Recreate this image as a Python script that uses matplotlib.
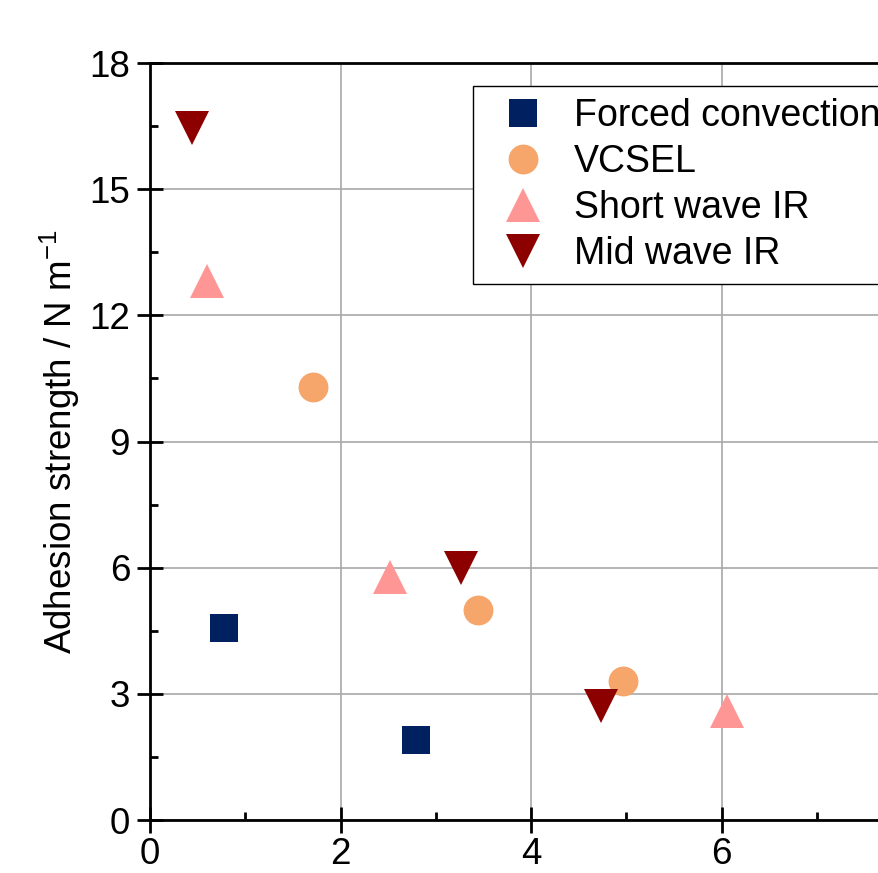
import matplotlib
matplotlib.use("Agg")
import matplotlib.pyplot as plt
from matplotlib.ticker import FixedLocator, MultipleLocator

plt.rcParams["font.family"] = ["Liberation Sans", "DejaVu Sans"]
plt.rcParams["mathtext.fontset"] = "custom"
plt.rcParams["mathtext.rm"] = "Liberation Sans"
plt.rcParams["mathtext.it"] = "Liberation Sans"

# data
forced_x = [0.78, 2.79]
forced_y = [4.56, 1.90]
vcsel_x = [1.71, 3.44, 4.97]
vcsel_y = [10.30, 4.99, 3.31]
swir_x = [0.60, 2.52, 6.06]
swir_y = [12.82, 5.78, 2.58]
mwir_x = [0.44, 3.26, 4.74]
mwir_y = [16.45, 6.00, 2.71]

labels = ["Forced convection", "VCSEL", "Short wave IR", "Mid wave IR"]
x_ticks = [0, 2, 4, 6]

fig = plt.figure(figsize=(8.79, 8.73), dpi=100)
# axes run past the right edge of the picture (cropped like the original)
ax = fig.add_axes([150 / 879, 53 / 873, 762 / 879, 757 / 873])

ax.plot(forced_x, forced_y, "s", color="#002060", ms=19.5, mew=0, label=labels[0], zorder=3)
ax.plot(vcsel_x, vcsel_y, "o", color="#F6A66A", ms=21.5, mew=0, label=labels[1], zorder=3)
ax.plot(swir_x, swir_y, "^", color="#FF9696", ms=24, mew=0, label=labels[2], zorder=3)
ax.plot(mwir_x, mwir_y, "v", color="#8C0000", ms=25, mew=0, label=labels[3], zorder=3)

ax.set_xlim(0, 8)
ax.set_ylim(0, 18)
ax.xaxis.set_major_locator(FixedLocator(x_ticks))
ax.xaxis.set_minor_locator(MultipleLocator(1))
ax.yaxis.set_major_locator(MultipleLocator(3))
ax.yaxis.set_minor_locator(MultipleLocator(1.5))

ax.grid(True, which="major", color="#A8A8A8", lw=1.2)
ax.set_axisbelow(True)

for side in ["left", "bottom", "top"]:
    ax.spines[side].set_linewidth(2.0)
ax.spines["right"].set_visible(False)

ax.tick_params(which="major", direction="inout", length=18.5, width=2.0,
               labelsize=26.5, pad=5, top=False, right=False)
ax.tick_params(axis="x", which="major", pad=3)
ax.tick_params(which="minor", direction="in", length=6, width=2.0,
               top=False, right=False)

ax.set_ylabel("Adhesion strength / N m$^{-1}$", fontsize=26.5, labelpad=5)

leg = fig.legend(loc="upper left", bbox_to_anchor=(473 / 879, 1 - 86 / 873),
                 borderaxespad=0, fontsize=27, frameon=True, fancybox=False,
                 edgecolor="black", framealpha=1, borderpad=0.33,
                 labelspacing=0.26, handletextpad=0.35, handlelength=2.0,
                 numpoints=1)
leg.get_frame().set_linewidth(1.0)

fig.savefig("out.png", dpi=100)
